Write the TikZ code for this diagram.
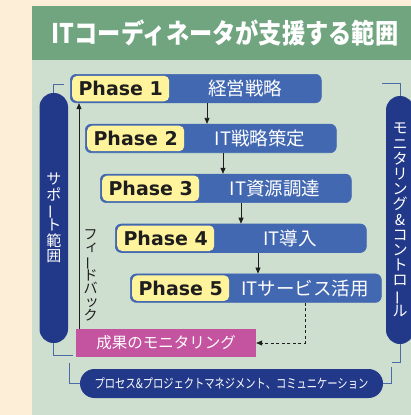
\documentclass[tikz,border=0pt]{standalone}
\usepackage{fontspec}
\usepackage{graphicx}
\usetikzlibrary{arrows.meta,calc}
\newfontfamily\cjk{Noto Sans CJK JP}
\newfontfamily\phasefont{DejaVu Sans}
\definecolor{cream}{HTML}{FDEFD7}
\definecolor{hdr}{HTML}{70A580}
\definecolor{panel}{HTML}{CEDFCF}
\definecolor{blueb}{HTML}{4368B2}
\definecolor{yel}{HTML}{FFF39B}
\definecolor{navy}{HTML}{22398A}
\definecolor{mag}{HTML}{C4549F}
\definecolor{ink}{HTML}{1E1E1E}
\definecolor{brc}{HTML}{4B6AA8}
\newcommand\vbar{\vphantom{ア}\smash{\rotatebox[origin=c]{90}{ー}}}
\newcommand\vsm[1]{\makebox[1em][l]{\hspace{0.1em}\raisebox{0.08em}{#1}}}
\begin{document}
\begin{tikzpicture}[x=1pt,y=-1pt,
  phasebox/.style={draw=blueb, fill=blueb, line width=0.6pt, rounded corners=6pt,
    minimum height=28.5pt, minimum width=251pt, anchor=north west, inner sep=0pt},
  ylab/.style={fill=yel, rounded corners=5pt, minimum height=25.5pt, minimum width=97pt,
    anchor=west, inner sep=0pt, text=ink, font=\phasefont\bfseries\fontsize{19}{22}\selectfont},
  btext/.style={text=white, inner sep=0pt, font=\cjk\fontsize{18.5}{22}\selectfont},
  pill/.style={fill=navy, rounded corners=14pt, inner sep=0pt, text=white, align=center},
  arr/.style={draw=ink, line width=0.7pt, -{Triangle[length=6pt,width=5pt]}},
  br/.style={draw=brc, line width=0.8pt},
]
\useasboundingbox (0,0) rectangle (411,415);
\fill[cream] (0,0) rectangle (411,415);
\fill[hdr] (32,6) rectangle (411,60);
\fill[panel] (32,60) rectangle (411,415);
\node[text=white, inner sep=0pt, font=\cjk\bfseries\fontsize{27}{30}\selectfont] (title) at (225,33)
  {\scalebox{0.86}[1]{ITコーディネータが支援する範囲}};

% phase boxes
\foreach \n/\t in {1/経営戦略, 2/IT戦略策定, 3/IT資源調達, 4/IT導入, 5/ITサービス活用}{
  \node[phasebox] (p\n) at ({70+15*(\n-1)},{74+49.9*(\n-1)}) {};
  \node[ylab] (y\n) at ($(p\n.west)+(2,0)$) {Phase \n};
  \node[btext] (t\n) at ($(p\n.west)+(175,0)$) {\t};
}

% side pills
\node[pill, minimum width=28.5pt, minimum height=250pt,
  font=\cjk\fontsize{15}{15.3}\selectfont] (sp) at (53.75,218)
  {サ\\ポ\\\vbar\\ト\\範\\囲};
\node[pill, minimum width=28pt, minimum height=248pt,
  font=\cjk\fontsize{15}{15.2}\selectfont] (mp) at (400,220)
  {モ\\ニ\\タ\\リ\\ン\\グ\\\&\\コ\\ン\\ト\\ロ\\\vbar\\ル};
\node[pill, rounded corners=14.5pt, minimum width=303pt, minimum height=29pt,
  font=\cjk\fontsize{13}{15}\selectfont] (bp) at (231.5,383.5)
  {\scalebox{0.79}[1]{プロセス\&プロジェクトマネジメント、コミュニケーション}};

% monitoring box
\node[fill=mag, minimum width=180pt, minimum height=28pt, inner sep=0pt, text=white,
  font=\cjk\fontsize{15.5}{18}\selectfont] (mon) at (166,343) {成果のモニタリング};

% feedback text
\node[text=ink, align=center, inner sep=0pt, font=\cjk\fontsize{14}{13.6}\selectfont] (fbt) at (90.5,275.5)
  {フ\\\vsm{ィ}\\\vbar\\ド\\バ\\\vsm{ッ}\\ク};

% arrows between phases
\coordinate (ax1) at (207,0);
\coordinate (ax2) at (223,0);
\coordinate (ax3) at (241,0);
\coordinate (ax4) at (258,0);
\draw[arr] (p1.south -| ax1) -- (p2.north -| ax1);
\draw[arr] (p2.south -| ax2) -- (p3.north -| ax2);
\draw[arr] (p3.south -| ax3) -- (p4.north -| ax3);
\draw[arr] (p4.south -| ax4) -- (p5.north -| ax4);

% feedback arrow
\coordinate (fbx) at (79,0);
\draw[arr, line width=0.6pt] (mon.north -| fbx) -- (p1.south -| fbx);

% dashed arrow
\coordinate (dx) at (305,0);
\draw[arr, dash pattern=on 3pt off 2.5pt] (p5.south -| dx) |- (mon.east);

% brackets
\draw[br] (sp.north) -- ++(0,-8) -- ++(10,0);
\draw[br] (sp.south) -- ++(0,12) -- ++(19,0);
\draw[br] (bp.west) -- ++(-10,0) -- ++(0,-21);
\draw[br] (mp.north) -- ++(0,-12) -- ++(-18,0);
\draw[br] (mp.south) -- ++(0,18) -- ++(-8,0);
\draw[br] (bp.east) -- ++(8,0) -- ++(0,-17);
\end{tikzpicture}
\end{document}
